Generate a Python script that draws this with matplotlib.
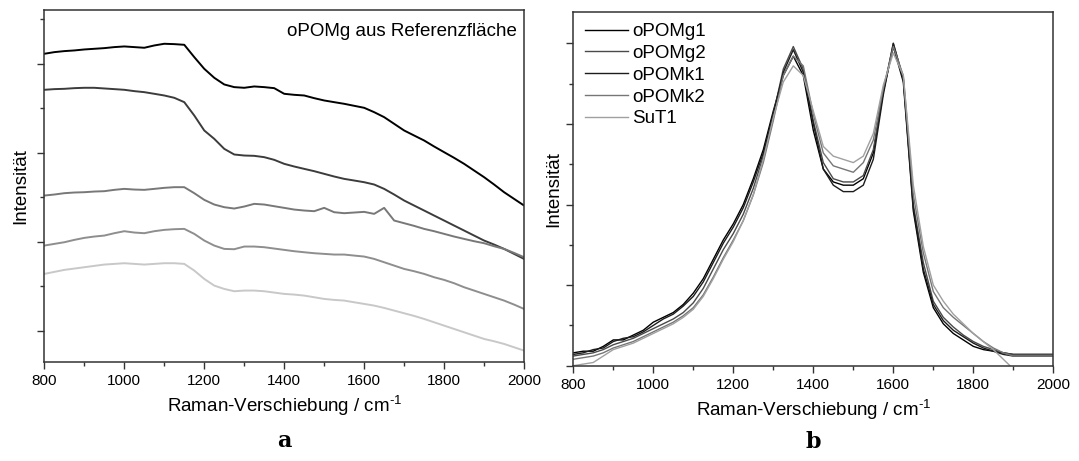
import numpy as np
import matplotlib
matplotlib.use("Agg")
import matplotlib.pyplot as plt
from matplotlib.ticker import MultipleLocator, NullFormatter

plt.rcParams['font.family'] = ['Liberation Sans', 'DejaVu Sans']
plt.rcParams['mathtext.fontset'] = 'custom'
plt.rcParams['mathtext.rm'] = 'Liberation Sans'
plt.rcParams['mathtext.default'] = 'rm'

# Raman shift grid (cm-1), shared by all spectra
shift = np.arange(800, 2001, 25)

# --- panel a: oPOMg spectra from the reference area (offset, counts) ---
ref_1 = [8225, 8262, 8285, 8300, 8322, 8337, 8352, 8375, 8390, 8375, 8360, 8412, 8450,
         8442, 8427, 8150, 7887, 7685, 7535, 7475, 7460, 7490, 7475, 7452, 7325, 7302,
         7287, 7227, 7175, 7137, 7100, 7055, 7010, 6912, 6800, 6650, 6500, 6387, 6275,
         6140, 6012, 5885, 5750, 5600, 5450, 5285, 5112, 4962, 4812]
ref_2 = [7415, 7430, 7437, 7452, 7460, 7460, 7445, 7430, 7415, 7385, 7362, 7325, 7287,
         7235, 7137, 6837, 6500, 6312, 6087, 5960, 5937, 5930, 5900, 5840, 5750, 5690,
         5637, 5585, 5525, 5465, 5412, 5375, 5337, 5285, 5187, 5060, 4925, 4812, 4700,
         4587, 4475, 4362, 4250, 4137, 4025, 3935, 3837, 3725, 3612]
ref_3 = [5037, 5060, 5090, 5105, 5112, 5127, 5135, 5165, 5187, 5172, 5165, 5187, 5210,
         5225, 5225, 5090, 4940, 4835, 4775, 4745, 4790, 4850, 4835, 4797, 4760, 4722,
         4700, 4685, 4760, 4662, 4640, 4655, 4670, 4625, 4760, 4475, 4415, 4355, 4287,
         4235, 4175, 4115, 4062, 4010, 3965, 3897, 3837, 3747, 3650]
ref_4 = [3912, 3950, 3987, 4040, 4085, 4115, 4137, 4190, 4235, 4205, 4190, 4235, 4265,
         4280, 4287, 4175, 4025, 3912, 3837, 3830, 3890, 3890, 3875, 3845, 3815, 3785,
         3762, 3740, 3725, 3710, 3710, 3687, 3665, 3612, 3537, 3462, 3387, 3335, 3275,
         3200, 3140, 3065, 2975, 2900, 2825, 2750, 2675, 2585, 2487]
ref_5 = [3275, 3320, 3365, 3395, 3425, 3455, 3485, 3500, 3515, 3500, 3485, 3500, 3515,
         3515, 3500, 3350, 3162, 3012, 2937, 2885, 2900, 2900, 2885, 2855, 2825, 2810,
         2787, 2750, 2712, 2690, 2675, 2637, 2600, 2562, 2510, 2450, 2390, 2330, 2262,
         2187, 2112, 2037, 1962, 1887, 1812, 1760, 1700, 1625, 1550]
ref_colors = ['#000000', '#3c3c3c', '#787878', '#8e8e8e', '#c8c8c8']

# --- panel b: normalised spectra of the fractions ---
sample_names = ['oPOMg1', 'oPOMg2', 'oPOMk1', 'oPOMk2', 'SuT1']
oPOMg1 = [.040, .045, .045, .060, .080, .080, .095, .110, .135, .150, .165, .190, .225,
          .270, .330, .390, .440, .500, .580, .670, .790, .900, .960, .900, .730, .610,
          .570, .560, .560, .580, .660, .850, .990, .880, .480, .290, .180, .130, .100,
          .080, .060, .050, .045, .040, .035, .035, .035, .035, .035]
oPOMg2 = [.030, .035, .040, .050, .065, .075, .085, .100, .115, .130, .145, .165, .195,
          .240, .300, .360, .410, .470, .550, .650, .780, .920, .990, .920, .760, .630,
          .580, .570, .570, .590, .670, .850, 1.00, .890, .500, .320, .200, .150, .120,
          .095, .075, .060, .050, .040, .035, .035, .035, .035, .035]
oPOMk1 = [.035, .040, .050, .055, .075, .085, .090, .105, .125, .145, .160, .185, .215,
          .260, .320, .380, .430, .490, .570, .660, .780, .910, .980, .910, .750, .610,
          .560, .540, .540, .560, .640, .840, 1.00, .890, .490, .300, .190, .140, .110,
          .090, .070, .055, .045, .035, .030, .030, .030, .030, .030]
oPOMk2 = [.020, .025, .030, .040, .055, .065, .075, .090, .105, .120, .135, .155, .180,
          .220, .275, .335, .390, .450, .530, .630, .760, .900, .960, .930, .780, .660,
          .620, .610, .600, .630, .700, .860, .990, .900, .530, .350, .230, .180, .150,
          .125, .100, .075, .055, .040, .030, .030, .030, .030, .030]
SuT1 = [.000, .005, .010, .030, .050, .060, .070, .085, .100, .115, .130, .150, .175,
        .215, .270, .330, .385, .450, .530, .640, .770, .880, .930, .900, .790, .680,
        .650, .640, .630, .650, .720, .870, .970, .900, .560, .370, .250, .200, .160,
        .130, .100, .075, .050, .020, -.010, -.020, -.020, -.020, -.020]
sample_colors = ['#000000', '#4a4a4a', '#1c1c1c', '#767676', '#a0a0a0']

fig = plt.figure(figsize=(10.79, 4.61), dpi=100)
ax_a = fig.add_axes([0.0411, 0.2141, 0.4446, 0.7633])
ax_b = fig.add_axes([0.5313, 0.2067, 0.4449, 0.7679])

for ys, c in zip([ref_1, ref_2, ref_3, ref_4, ref_5], ref_colors):
    ax_a.plot(shift, ys, color=c, lw=1.4)
ax_a.set_ylim(1287, 9200)
ax_a.yaxis.set_major_locator(MultipleLocator(2000))
ax_a.yaxis.set_minor_locator(MultipleLocator(1000))
ax_a.text(0.985, 0.965, 'oPOMg aus Referenzfläche', transform=ax_a.transAxes,
          ha='right', va='top', fontsize=13.5)

for name, ys, c in zip(sample_names, [oPOMg1, oPOMg2, oPOMk1, oPOMk2, SuT1], sample_colors):
    ax_b.plot(shift, ys, color=c, lw=1.0, label=name)
ax_b.set_ylim(0, 1.098)
ax_b.yaxis.set_major_locator(MultipleLocator(0.25))
ax_b.yaxis.set_minor_locator(MultipleLocator(0.125))
ax_b.legend(loc='upper left', frameon=False, fontsize=13.5, handlelength=2.3,
            handletextpad=0.25, labelspacing=0.25, borderaxespad=0.2,
            bbox_to_anchor=(0.0, 1.0))

label_pos = {ax_a: (-0.032, -0.09, -0.224), ax_b: (-0.024, -0.09, -0.215)}
for ax, letter in [(ax_a, 'a'), (ax_b, 'b')]:
    ax.set_xlim(800, 2000)
    ax.xaxis.set_major_locator(MultipleLocator(200))
    ax.xaxis.set_minor_locator(MultipleLocator(100))
    ax.yaxis.set_major_formatter(NullFormatter())
    ax.tick_params(which='major', direction='out', length=5, width=1, labelsize=11,
                   color='#333333')
    ax.tick_params(which='minor', direction='out', length=3, width=1, color='#333333')
    for s in ax.spines.values():
        s.set_linewidth(1.1)
        s.set_color('#333333')
    ylx, xly, lty = label_pos[ax]
    ax.set_xlabel('Raman-Verschiebung / cm$^{\\text{-1}}$', fontsize=13.5)
    ax.set_ylabel('Intensität', fontsize=13.5)
    ax.xaxis.set_label_coords(0.5, xly)
    ax.yaxis.set_label_coords(ylx, 0.5)
    ax.text(0.5, lty, letter, transform=ax.transAxes, ha='center', va='center',
            fontsize=16, fontweight='bold', family='DejaVu Serif')

fig.savefig('out.png', dpi=100)
